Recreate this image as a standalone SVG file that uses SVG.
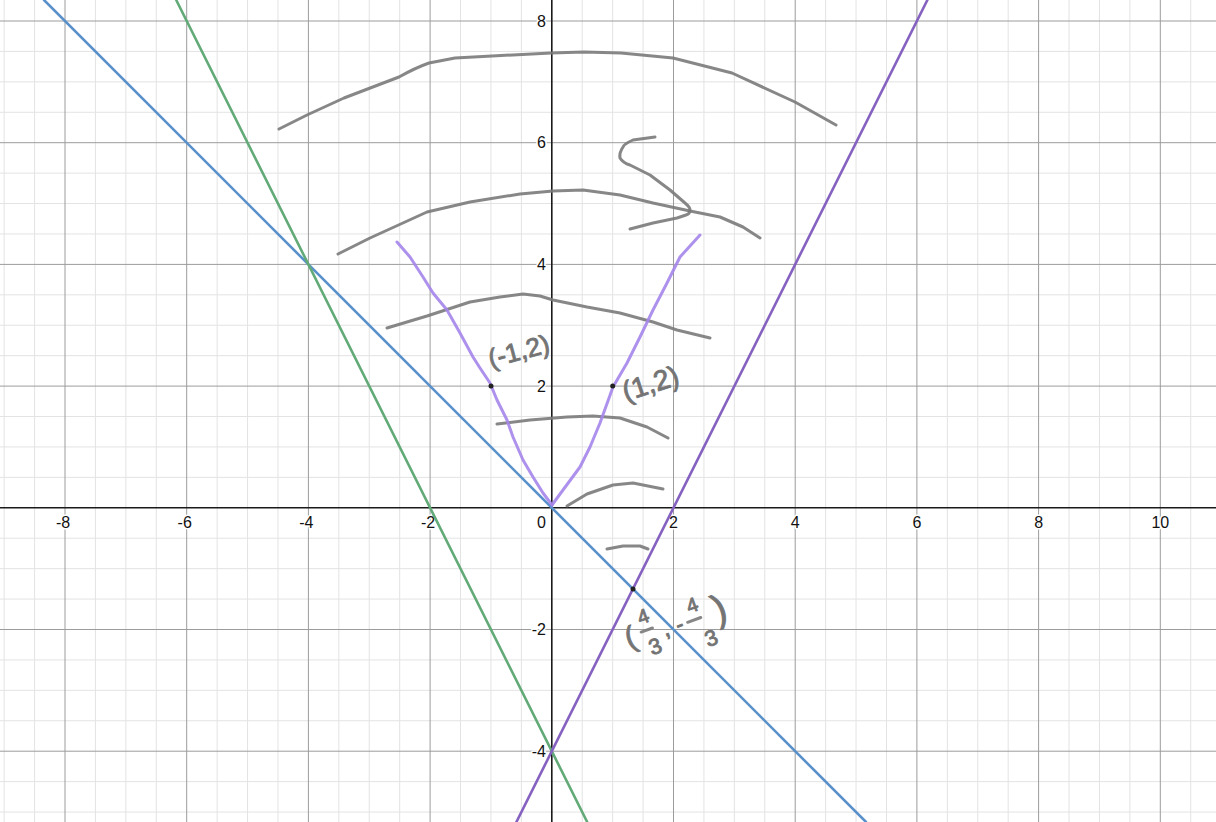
<svg xmlns="http://www.w3.org/2000/svg" width="1216" height="822" viewBox="0 0 1216 822">
<style>
.minor{stroke:#e3e3e3;stroke-width:1;fill:none}
.major{stroke:#9c9c9c;stroke-width:1;fill:none}
.axis{stroke:#1a1a1a;stroke-width:1.6;fill:none}
.tick{font-family:"Liberation Sans",Arial,sans-serif;font-size:16px;fill:#111;stroke:#fff;stroke-width:3;paint-order:stroke;stroke-linejoin:round}
.tx{text-anchor:middle}
.ty{text-anchor:end}
.fn{stroke-width:2.6;fill:none;stroke-linecap:round}
.ink{stroke:#7a7a7a;stroke-opacity:0.9;stroke-width:3;fill:none;stroke-linecap:round;stroke-linejoin:round}
.pink{stroke:#a485ea;stroke-opacity:0.9;stroke-width:3;fill:none;stroke-linecap:round;stroke-linejoin:round}
.hw{font-family:"Liberation Sans",Arial,sans-serif;fill:#747474;stroke:#747474;stroke-width:0.9;stroke-linejoin:round}
.dot{fill:#222}
</style>
<rect width="1216" height="822" fill="#fff"/>
<g id="grid">
<path class="minor" d="M4.15 0V822M34.58 0V822M95.43 0V822M125.85 0V822M156.28 0V822M217.13 0V822M247.55 0V822M277.98 0V822M338.83 0V822M369.25 0V822M399.68 0V822M460.53 0V822M490.95 0V822M521.38 0V822M582.23 0V822M612.65 0V822M643.08 0V822M703.93 0V822M734.35 0V822M764.78 0V822M825.63 0V822M856.05 0V822M886.48 0V822M947.33 0V822M977.75 0V822M1008.18 0V822M1069.03 0V822M1099.45 0V822M1129.88 0V822M1190.73 0V822"/>
<path class="minor" d="M0 51.43H1216M0 81.85H1216M0 112.28H1216M0 173.13H1216M0 203.55H1216M0 233.98H1216M0 294.83H1216M0 325.25H1216M0 355.68H1216M0 416.53H1216M0 446.95H1216M0 477.38H1216M0 538.23H1216M0 568.65H1216M0 599.08H1216M0 659.93H1216M0 690.35H1216M0 720.78H1216M0 781.63H1216M0 812.05H1216"/>
<path class="major" d="M65 0V822M186.7 0V822M308.4 0V822M430.1 0V822M673.5 0V822M795.2 0V822M916.9 0V822M1038.6 0V822M1160.3 0V822M0 21H1216M0 142.7H1216M0 264.4H1216M0 386.1H1216M0 629.5H1216M0 751.2H1216"/>
<path class="axis" d="M551.8 0V822M0 507.8H1216"/>
</g>
<g id="tick-labels">
<text class="tick tx" x="63" y="528">-8</text>
<text class="tick tx" x="184.7" y="528">-6</text>
<text class="tick tx" x="306.4" y="528">-4</text>
<text class="tick tx" x="428.1" y="528">-2</text>
<text class="tick ty" x="546" y="528">0</text>
<text class="tick tx" x="673.5" y="528">2</text>
<text class="tick tx" x="795.2" y="528">4</text>
<text class="tick tx" x="916.9" y="528">6</text>
<text class="tick tx" x="1038.6" y="528">8</text>
<text class="tick tx" x="1160.3" y="528">10</text>
<text class="tick ty" x="546" y="26.7">8</text>
<text class="tick ty" x="546" y="148.4">6</text>
<text class="tick ty" x="546" y="270.1">4</text>
<text class="tick ty" x="546" y="391.8">2</text>
<text class="tick ty" x="546" y="635.2">-2</text>
<text class="tick ty" x="546" y="756.9">-4</text>
</g>
<g id="connectors">
<line id="line-blue" class="fn" stroke="#5a91cb" x1="44" y1="0" x2="866" y2="822"/>
<line id="line-green" class="fn" stroke="#62aa78" x1="176.2" y1="0" x2="587.2" y2="822"/>
<line id="line-purple" class="fn" stroke="#8662c0" x1="927.4" y1="0" x2="516.4" y2="822"/>
</g>
<g id="sketch-arcs">
<path class="ink" d="M279 129L307 115L344 98L399 77Q415 68 429 63L455 58L492 56L551 53L584 52L621 53L673 58L732 73L795 102L836 125"/>
<path class="ink" d="M338 254L370 238L427 212L470 202L520 194L553 191L583 190L620 195L653 203L690 211L720 217L743 227L760 238"/>
<path class="ink" d="M655 137L633 140Q624 144 623 147Q619 153 620 158Q623 163 630 165L650 175L670 190L685 203Q690 207 690 210Q690 214 686 215L677 218L653 223L630 229"/>
<path class="ink" d="M387 328L427 316L470 302L500 297L523 294L540 296L553 300L587 307L620 313L653 322L677 330L710 338"/>
<path class="ink" d="M497 424L530 420L567 417L593 416L620 418L647 427L668 438"/>
<path class="ink" d="M567 506L587 494L613 485L633 483L663 489"/>
<path class="ink" d="M607 549L623 546L640 546L648 549"/>
</g>
<g id="sketch-v">
<path class="pink" d="M397 242L410 257L423 277L433 293L447 310L460 333L473 357L480 368L490 383L497 400L507 420L513 437L523 460L533 477L543 493L552 505"/>
<path class="pink" d="M552 505L563 490L580 467L590 447L600 423L613 387L627 363L640 337L653 310L667 283L680 257L700 235"/>
</g>
<g id="points">
<circle class="dot" cx="491" cy="386.1" r="2.5"/>
<circle class="dot" cx="612.7" cy="386.1" r="2.5"/>
<circle class="dot" cx="633" cy="589" r="2.5"/>
</g>
<g id="hand-labels">
<text class="hw" font-size="26" text-anchor="middle" transform="translate(519,352) rotate(-15)" y="8">(-1,2)</text>
<text class="hw" font-size="28" text-anchor="middle" transform="translate(651,385) rotate(-18)" y="8">(1,2)</text>
<g transform="translate(625,652) rotate(-20)">
<text class="hw" font-size="30" x="5" y="-2">(</text>
<text class="hw" font-size="20" x="23.7" y="-20.4">4</text>
<path class="ink" d="M22 -13.2H34"/>
<text class="hw" font-size="22" x="24.2" y="12.6">3</text>
<text class="hw" font-size="24" x="42.7" y="-0.5">,</text>
<text class="hw" font-size="22" x="57" y="0">-</text>
<text class="hw" font-size="20" x="73.6" y="-14.1">4</text>
<path class="ink" d="M69 -6.5H83"/>
<text class="hw" font-size="22" x="79.5" y="24">3</text>
<text class="hw" font-size="38" x="97" y="4">)</text>
</g>
</g>
</svg>
